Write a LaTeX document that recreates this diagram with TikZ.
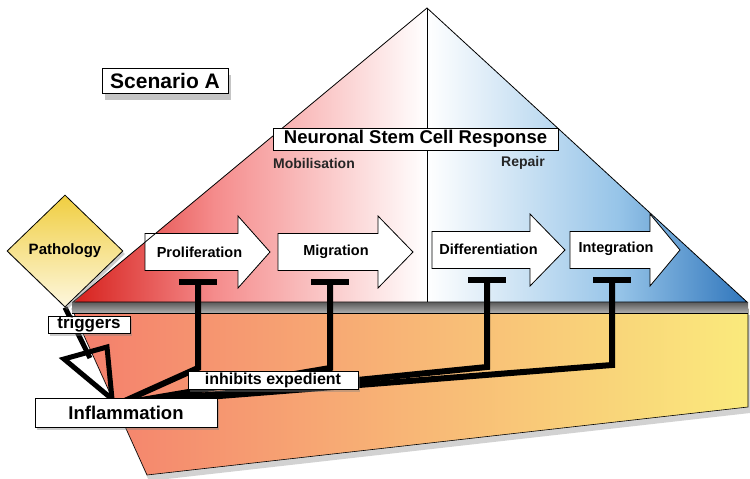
\documentclass[tikz,border=0pt]{standalone}
\usepackage{fontspec}
\setmainfont{Liberation Sans}
\usetikzlibrary{arrows.meta,shadows,shapes.geometric,calc}

\definecolor{nscRed}{RGB}{214,32,28}
\definecolor{nscPink}{RGB}{245,140,140}
\definecolor{nscBlue}{RGB}{48,118,188}
\definecolor{nscLBlue}{RGB}{150,196,232}
\definecolor{slabL}{RGB}{244,126,108}
\definecolor{slabM}{RGB}{248,182,118}
\definecolor{slabR}{RGB}{250,234,124}
\definecolor{pathTop}{RGB}{240,206,64}
\definecolor{pathBot}{RGB}{253,247,222}
\definecolor{bandTop}{RGB}{90,90,90}
\definecolor{bandBot}{RGB}{175,175,175}

\pgfdeclarehorizontalshading{redfade}{100bp}{color(0bp)=(nscRed); color(25bp)=(nscRed); color(45bp)=(nscPink); color(75bp)=(white); color(100bp)=(white)}
\pgfdeclarehorizontalshading{bluefade}{100bp}{color(0bp)=(white); color(25bp)=(white); color(55bp)=(nscLBlue); color(75bp)=(nscBlue); color(100bp)=(nscBlue)}
\pgfdeclarehorizontalshading{slabfade}{100bp}{color(0bp)=(slabL); color(25bp)=(slabL); color(50bp)=(slabM); color(75bp)=(slabR); color(100bp)=(slabR)}
\pgfdeclareverticalshading{pathfade}{100bp}{color(0bp)=(pathBot); color(25bp)=(pathBot); color(75bp)=(pathTop); color(100bp)=(pathTop)}
\pgfdeclareverticalshading{bandfade}{100bp}{color(0bp)=(bandBot); color(25bp)=(bandBot); color(75bp)=(bandTop); color(100bp)=(bandTop)}

\pgfdeclarelayer{back}
\pgfdeclarelayer{mid}
\pgfsetlayers{back,mid,main}

\tikzset{
  lbl/.style={draw=black, fill=white, line width=0.8pt, inner sep=0pt, text=black},
  shad/.style={drop shadow={opacity=0.4, shadow xshift=2pt, shadow yshift=-3pt}},
  bigshad/.style={drop shadow={opacity=0.45, shadow xshift=3pt, shadow yshift=-6pt}},
  arrowbox/.style={draw=black, fill=white, line width=0.8pt, line join=miter},
  arrowtxt/.style={font=\bfseries\fontsize{14.5}{16}\selectfont, inner sep=0pt},
  phase/.style={font=\bfseries\fontsize{14}{16}\selectfont, inner sep=0pt, text=black!85},
  inhib/.style={line width=6pt, line join=miter, -{Bar[width=38pt,line width=6pt]}},
  trigline/.style={line width=5pt},
  trighead/.style={line width=5pt, line join=miter, fill=none},
  outline/.style={draw=black, line width=0.8pt}
}

\begin{document}
\begin{tikzpicture}[x=1pt,y=-1pt]
\useasboundingbox (0,0) rectangle (750,479);

\begin{pgfonlayer}{back}
  \fill[white] (0,0) rectangle (750,479);
  % lower slab
  \path[shading=slabfade, draw=black, line width=0.6pt,
        drop shadow={opacity=0.35, shadow xshift=2pt, shadow yshift=-6pt}]
    (72,309) -- (748,309) -- (748,407) -- (147,475) -- cycle;
  % grey band under the triangle
  \shade[shading=bandfade] (72,302) rectangle (748,313);
  \draw[line width=0.6pt] (72,313) -- (748,313);
  % triangle halves
  \shade[shading=redfade] (73,302) -- (427,8) -- (427,302) -- cycle;
  \shade[shading=bluefade] (427,8) -- (747,302) -- (427,302) -- cycle;
  % process arrows
  \draw[arrowbox] (145,233.5) -- (238,233.5) -- (238,216) -- (270,252) -- (238,288) -- (238,270.5) -- (145,270.5) -- cycle;
  \draw[arrowbox] (278,233.5) -- (378,233.5) -- (378,216) -- (413,252) -- (378,288) -- (378,270.5) -- (278,270.5) -- cycle;
  \draw[arrowbox] (432,231.5) -- (530,231.5) -- (530,214) -- (565,250) -- (530,286) -- (530,268.5) -- (432,268.5) -- cycle;
  \draw[arrowbox] (570,231.5) -- (650,231.5) -- (650,214) -- (680,250) -- (650,286) -- (650,268.5) -- (570,268.5) -- cycle;
  % triangle outline and divider
  \draw[outline, line join=miter] (73,302) -- (427,8) -- (747,302) -- cycle;
  \draw[outline] (427,8) -- (427,302);
\end{pgfonlayer}

% pathology diamond
\node[diamond, draw=black, line width=0.8pt, shading=pathfade, minimum width=116, minimum height=112,
      inner sep=0pt, font=\bfseries\fontsize{15}{17}\selectfont, shad] (patho) at (65,251) {Pathology};

% arrow labels
\node[arrowtxt] (prolif) at (199.5,252) {Proliferation};
\node[arrowtxt] (migr)   at (336,252)   {Migration};
\node[arrowtxt] (diff)   at (488.5,249) {Differentiation};
\node[arrowtxt] (integ)  at (616,249)   {Integration};

% headings
\node[lbl, bigshad, minimum width=126, minimum height=25, font=\bfseries\fontsize{21}{24}\selectfont] (scen) at (165,81) {Scenario A};
\node[lbl, minimum width=285, minimum height=22, font=\bfseries\fontsize{18.5}{21}\selectfont] (nscr) at (415.5,139) {Neuronal Stem Cell Response};
\node[phase] (mobil) at (314,163) {Mobilisation};
\node[phase] (repair) at (523,163) {Repair};

% inflammation and labels
\node[lbl, shad, minimum width=182, minimum height=29, font=\bfseries\fontsize{18.5}{21}\selectfont] (infl) at (126,412.5) {Inflammation};
\node[lbl, shad, minimum width=82, minimum height=17, font=\bfseries\fontsize{17}{19}\selectfont] (trigl) at (89,324.5) {triggers};
\node[lbl, shad, minimum width=170, minimum height=17.5, font=\bfseries\fontsize{16}{18}\selectfont] (inhl) at (273,380.5) {inhibits expedient};

% connector points
\coordinate (conv) at (118,404);
\coordinate (k1) at (198,368);   \coordinate (t1) at (198,279);
\coordinate (k2) at (330,368);   \coordinate (t2) at (330,279);
\coordinate (k3) at (487,367);   \coordinate (t3) at (487,277);
\coordinate (k4) at (612,365);   \coordinate (t4) at (612,277);
\coordinate (ta) at (64,359);
\coordinate (tb) at (107,347);
\coordinate (tapex) at (112,399);
\coordinate (tmid) at (90,358);

\begin{pgfonlayer}{mid}
  \draw[inhib] (conv) -- (k1) -- (t1);
  \draw[inhib] (conv) -- (k2) -- (t2);
  \draw[inhib] (conv) -- (k3) -- (t3);
  \draw[inhib] (conv) -- (k4) -- (t4);
  \draw[trigline] (patho.south) -- (tmid);
  \draw[trighead] (ta) -- (tb) -- (tapex) -- cycle;
\end{pgfonlayer}
\end{tikzpicture}
\end{document}
